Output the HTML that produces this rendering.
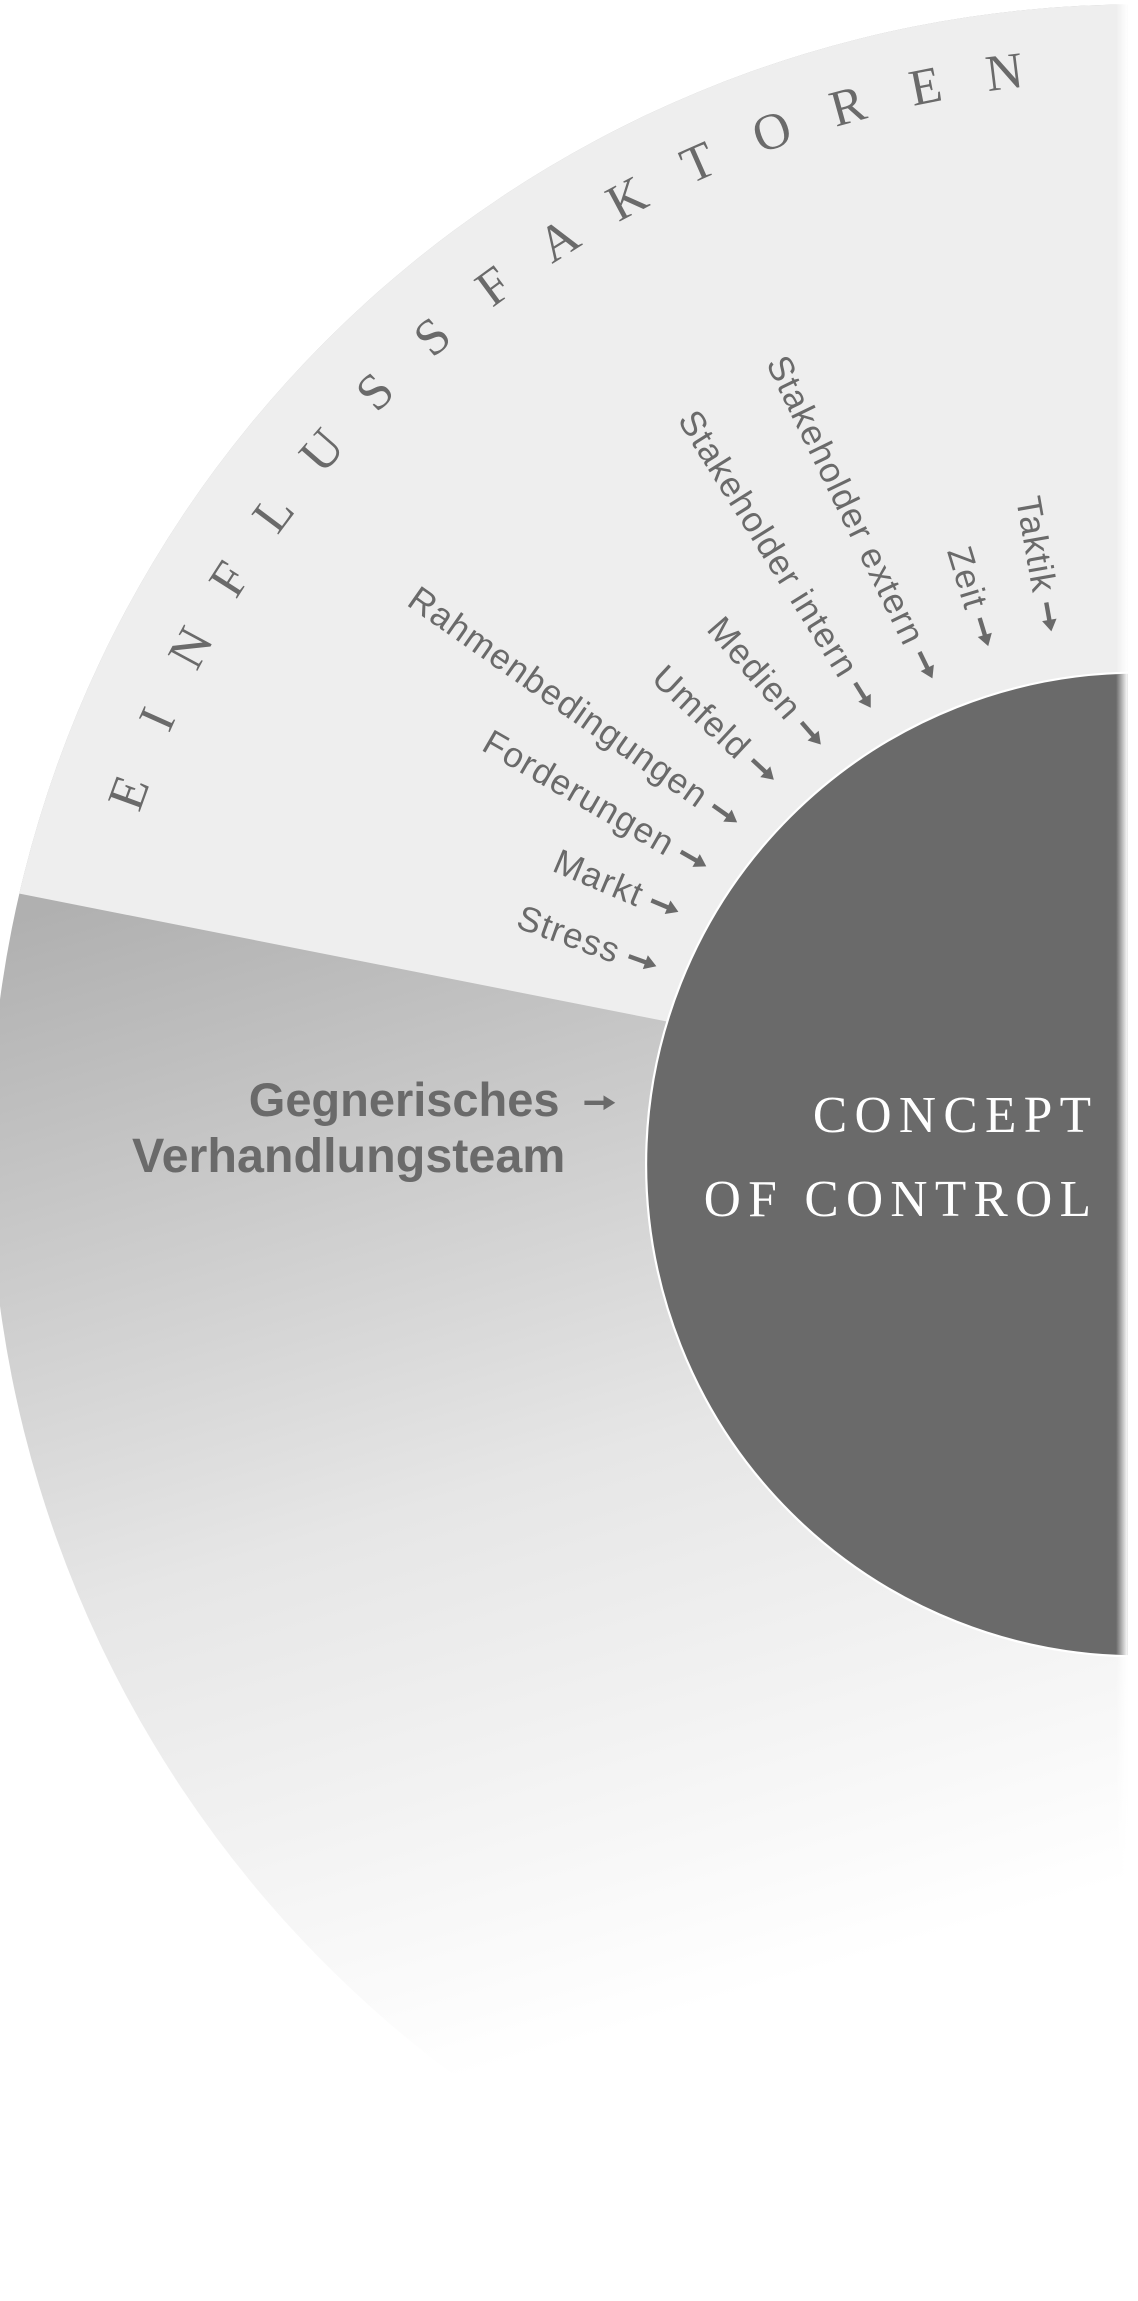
<!DOCTYPE html>
<html><head><meta charset="utf-8"><style>html,body{margin:0;padding:0;background:#fff}svg{display:block}</style></head>
<body>
<svg width="1138" height="2301" viewBox="0 0 775 1567" xmlns="http://www.w3.org/2000/svg">
<defs>
<clipPath id="big"><circle cx="775" cy="785" r="782"/></clipPath>
<linearGradient id="lg" gradientUnits="userSpaceOnUse" x1="60" y1="610" x2="300" y2="1420">
<stop offset="0" stop-color="#b0b0b0"/><stop offset="0.55" stop-color="#e6e6e6"/><stop offset="1" stop-color="#ffffff"/>
</linearGradient>
<linearGradient id="edge" x1="0" y1="0" x2="1" y2="0">
<stop offset="0" stop-color="#fff" stop-opacity="0"/><stop offset="1" stop-color="#fff" stop-opacity="1"/>
</linearGradient>
</defs>
<g clip-path="url(#big)">
<rect x="0" y="0" width="775" height="1567" fill="url(#lg)"/>
<polygon points="-20,602 775,759 775,-10 -20,-10" fill="#eeeeee"/>
</g>
<circle cx="775" cy="793" r="335" fill="#6a6a6a" stroke="#fff" stroke-width="1.5"/>
<rect x="760" y="0" width="8" height="1567" fill="url(#edge)"/>
<rect x="768" y="0" width="7" height="1567" fill="#fff"/>

<g font-family="Liberation Serif, serif" font-size="35" fill="#6a6a6a" text-anchor="middle">
<g transform="rotate(-70 775 790)"><text x="775" y="70">E</text></g>
<g transform="rotate(-65.8 775 790)"><text x="775" y="69">I</text></g>
<g transform="rotate(-61.6 775 790)"><text x="775" y="68">N</text></g>
<g transform="rotate(-57.4 775 790)"><text x="775" y="67">F</text></g>
<g transform="rotate(-53.2 775 790)"><text x="775" y="66">L</text></g>
<g transform="rotate(-49.0 775 790)"><text x="775" y="65">U</text></g>
<g transform="rotate(-44.8 775 790)"><text x="775" y="64">S</text></g>
<g transform="rotate(-40.6 775 790)"><text x="775" y="63">S</text></g>
<g transform="rotate(-36.4 775 790)"><text x="775" y="62">F</text></g>
<g transform="rotate(-32.2 775 790)"><text x="775" y="61">A</text></g>
<g transform="rotate(-28.0 775 790)"><text x="775" y="60">K</text></g>
<g transform="rotate(-23.8 775 790)"><text x="775" y="59">T</text></g>
<g transform="rotate(-19.6 775 790)"><text x="775" y="58">O</text></g>
<g transform="rotate(-15.4 775 790)"><text x="775" y="57">R</text></g>
<g transform="rotate(-11.2 775 790)"><text x="775" y="56">E</text></g>
<g transform="rotate(-7.0 775 790)"><text x="775" y="55">N</text></g>
</g>

<g font-family="Liberation Sans, sans-serif" font-size="24" letter-spacing="0.8" fill="#6a6a6a" text-anchor="end">
<g transform="translate(447,658) rotate(20)"><text x="-27" y="8">Stress</text><line x1="-20" y1="0" x2="-6" y2="0" stroke="#6a6a6a" stroke-width="3"/><polygon points="0,0 -8,-5 -8,5" fill="#6a6a6a"/></g>
<g transform="translate(462,621) rotate(23)"><text x="-27" y="8">Markt</text><line x1="-20" y1="0" x2="-6" y2="0" stroke="#6a6a6a" stroke-width="3"/><polygon points="0,0 -8,-5 -8,5" fill="#6a6a6a"/></g>
<g transform="translate(481,590) rotate(30)"><text x="-27" y="8">Forderungen</text><line x1="-20" y1="0" x2="-6" y2="0" stroke="#6a6a6a" stroke-width="3"/><polygon points="0,0 -8,-5 -8,5" fill="#6a6a6a"/></g>
<g transform="translate(502,560) rotate(35)"><text x="-27" y="8">Rahmenbedingungen</text><line x1="-20" y1="0" x2="-6" y2="0" stroke="#6a6a6a" stroke-width="3"/><polygon points="0,0 -8,-5 -8,5" fill="#6a6a6a"/></g>
<g transform="translate(527,531) rotate(43)"><text x="-27" y="8">Umfeld</text><line x1="-20" y1="0" x2="-6" y2="0" stroke="#6a6a6a" stroke-width="3"/><polygon points="0,0 -8,-5 -8,5" fill="#6a6a6a"/></g>
<g transform="translate(559,507) rotate(49)"><text x="-27" y="8">Medien</text><line x1="-20" y1="0" x2="-6" y2="0" stroke="#6a6a6a" stroke-width="3"/><polygon points="0,0 -8,-5 -8,5" fill="#6a6a6a"/></g>
<g transform="translate(593,482) rotate(58)"><text x="-27" y="8">Stakeholder intern</text><line x1="-20" y1="0" x2="-6" y2="0" stroke="#6a6a6a" stroke-width="3"/><polygon points="0,0 -8,-5 -8,5" fill="#6a6a6a"/></g>
<g transform="translate(635,462) rotate(64)"><text x="-27" y="8">Stakeholder extern</text><line x1="-20" y1="0" x2="-6" y2="0" stroke="#6a6a6a" stroke-width="3"/><polygon points="0,0 -8,-5 -8,5" fill="#6a6a6a"/></g>
<g transform="translate(673,440) rotate(73)"><text x="-27" y="8">Zeit</text><line x1="-20" y1="0" x2="-6" y2="0" stroke="#6a6a6a" stroke-width="3"/><polygon points="0,0 -8,-5 -8,5" fill="#6a6a6a"/></g>
<g transform="translate(716,430) rotate(80)"><text x="-27" y="8">Taktik</text><line x1="-20" y1="0" x2="-6" y2="0" stroke="#6a6a6a" stroke-width="3"/><polygon points="0,0 -8,-5 -8,5" fill="#6a6a6a"/></g>
</g>

<g font-family="Liberation Sans, sans-serif" font-weight="bold" fill="#6a6a6a" text-anchor="end">
<text x="381" y="760" font-size="32">Gegnerisches</text>
<text x="385" y="798" font-size="33">Verhandlungsteam</text>
</g>
<line x1="398" y1="751" x2="412" y2="751" stroke="#6a6a6a" stroke-width="3"/>
<polygon points="419,751 411,746 411,756" fill="#6a6a6a"/>

<g font-family="Liberation Serif, serif" font-size="35" fill="#ffffff" text-anchor="end" letter-spacing="5">
<text x="748" y="771">CONCEPT</text>
<text x="748" y="828">OF CONTROL</text>
</g>
</svg>
</body></html>
